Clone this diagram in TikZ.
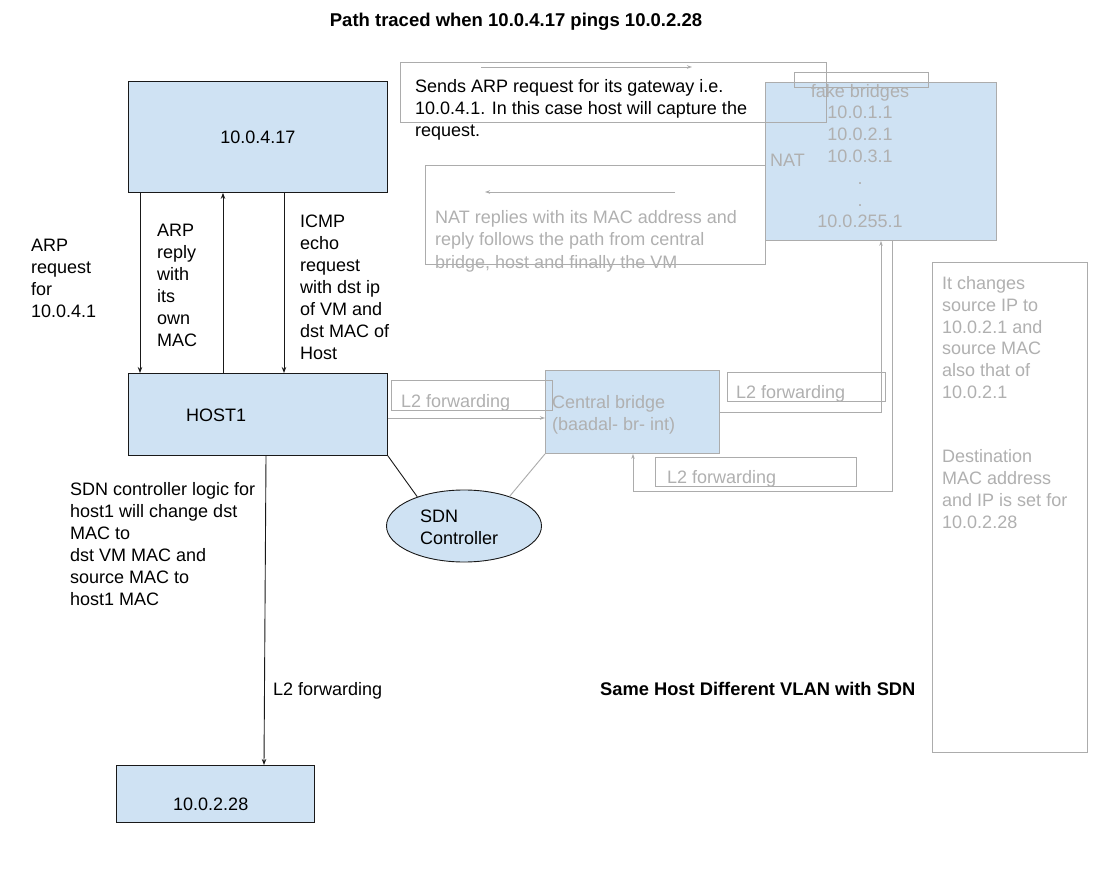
\documentclass[tikz,border=0pt]{standalone}
\usepackage{fontspec}
\setmainfont{Liberation Sans}
\usetikzlibrary{arrows.meta,shapes.geometric}
\definecolor{bfill}{RGB}{207,226,243}
\definecolor{lgray}{RGB}{172,172,172}
\definecolor{tgray}{RGB}{176,176,176}
\definecolor{dline}{RGB}{25,25,25}
\newcommand\tf{\fontsize{18}{22}\selectfont}
\begin{document}
\begin{tikzpicture}[x=1pt,y=-1pt,
  box/.style={draw=dline,fill=bfill,line width=0.9pt,inner sep=0pt,anchor=north west},
  gbox/.style={draw=lgray,fill=bfill,line width=0.9pt,inner sep=0pt,anchor=north west},
  obox/.style={draw=lgray,line width=0.9pt,inner sep=0pt,anchor=north west},
  txt/.style={anchor=north west,inner sep=0pt,align=left,font=\tf},
  one/.style={anchor=base west,inner sep=0pt,font=\tf},
  bline/.style={draw=dline,line width=0.9pt},
  barr/.style={draw=dline,line width=0.9pt,-{Stealth[length=6pt,width=4.5pt]}},
  gline/.style={draw=lgray,line width=0.9pt},
  garr/.style={draw=lgray,line width=0.9pt,-{Stealth[length=5pt,width=3.5pt]}}
]
\useasboundingbox[fill=white] (0,0) rectangle (1102,882);

% title
\node[anchor=base,inner sep=0pt,font=\bfseries\fontsize{18.5}{22}\selectfont] (title) at (516,27) {Path traced when 10.0.4.17 pings 10.0.2.28};
\node[anchor=base west,inner sep=0pt,font=\bfseries\fontsize{18.3}{22}\selectfont] (sub) at (600,695) {Same Host Different VLAN with SDN};

% main boxes
\node[box,minimum width=259pt,minimum height=111pt,font=\tf] (a) at (128,81) {10.0.4.17};
\node[box,minimum width=259pt,minimum height=82pt] (h) at (128,373) {};
\node[one] (htxt) at (186,421) {HOST1};
\node[box,minimum width=198pt,minimum height=57pt] (v) at (116,765) {};
\node[one] (vtxt) at (173,810) {10.0.2.28};
\node[ellipse,draw=dline,fill=bfill,line width=0.9pt,minimum width=155pt,minimum height=72pt,inner sep=0pt] (sdn) at (464,526) {};
\node[txt] (sdntxt) at (420,{522-15.4}) {\strut SDN\\Controller};

% central bridge
\node[gbox,minimum width=174pt,minimum height=83pt] (cb) at (545,370) {};
\node[txt,text=tgray] (cbtxt) at (552,{408-15.4}) {\strut Central bridge\\(baadal- br- int)};

% NAT
\node[gbox,minimum width=231pt,minimum height=158pt] (nat) at (765,82) {};
\node[obox,minimum width=134pt,minimum height=15pt] (fb) at (794,72) {};
\node[one,text=tgray] (nattxt) at (770,167) {NAT};
\node[anchor=north,inner sep=0pt,align=center,text=tgray,font=\fontsize{18}{21.8}\selectfont] (natlist) at (860,{97-15.26})
  {\strut fake bridges\\10.0.1.1\\10.0.2.1\\10.0.3.1\\.\\.\\10.0.255.1};

% top text box
\node[obox,minimum width=426pt,minimum height=60pt] (tb) at (400,62) {};
\coordinate (tb1) at (481,67);
\coordinate (tb2) at (692,67);
\draw[garr] (tb1) -- (tb2);
\node[txt] (tbtxt) at (415,{92-15.4}) {\strut Sends ARP request for its gateway i.e.\\10.0.4.1. In this case host will capture the\\request.};

% second text box
\node[obox,minimum width=340pt,minimum height=99pt] (nb) at (425,165) {};
\coordinate (nb1) at (675,192);
\coordinate (nb2) at (485,192);
\draw[garr] (nb1) -- (nb2);
\node[txt,text=tgray,font=\fontsize{18}{22.5}\selectfont] (nbtxt) at (435,{223-15.75}) {\strut NAT replies with its MAC address and\\reply follows the path from central\\bridge, host and finally the VM};

% right text box
\node[obox,minimum width=155pt,minimum height=490pt] (rb) at (932,262) {};
\node[txt,text=tgray,font=\fontsize{18}{21.7}\selectfont] (rbtxt) at (942,{289.5-15.19}) {\strut It changes\\source IP to\\10.0.2.1 and\\source MAC\\also that of\\10.0.2.1\\[43pt]Destination\\MAC address\\and IP is set for\\10.0.2.28};

% left labels
\node[txt] (l1) at (31,{251-15.4}) {\strut ARP\\request\\for\\10.0.4.1};
\node[txt] (l2) at (157,{236-15.4}) {\strut ARP\\reply\\with\\its\\own\\MAC};
\node[txt] (l3) at (300,{227-15.4}) {\strut ICMP\\echo\\request\\with dst ip\\of VM and\\dst MAC of\\Host};
\node[txt] (l4) at (70,{495-15.4}) {\strut SDN controller logic for\\host1 will change dst\\MAC to\\dst VM MAC and\\source MAC to\\host1 MAC};
\node[one] (l5) at (273,695) {L2 forwarding};

% vertical arrows
\coordinate (c1) at (140,0);
\coordinate (c2) at (223,0);
\coordinate (c3) at (284,0);
\coordinate (c4) at (266,0);
\coordinate (c5) at (264,0);
\draw[barr] (a.south -| c1) -- (h.north -| c1);
\draw[barr] (h.north -| c2) -- (a.south -| c2);
\draw[barr] (a.south -| c3) -- (h.north -| c3);
\draw[barr] (h.south -| c4) -- (v.north -| c5);

% controller links
\draw[bline] (h.south east) -- (sdn.148);
\draw[gline] (sdn.33) -- (cb.south west);

% L2 forwarding boxes
\node[obox,minimum width=161pt,minimum height=30pt] (f1) at (391,380) {};
\node[one,text=tgray] (f1t) at (401,407) {L2 forwarding};
\node[obox,minimum width=158pt,minimum height=29pt] (f2) at (727,372) {};
\node[one,text=tgray] (f2t) at (736,398) {L2 forwarding};
\node[obox,minimum width=201pt,minimum height=29pt] (f3) at (655,457) {};
\node[one,text=tgray] (f3t) at (667,483) {L2 forwarding};

% gray paths
\coordinate (y1) at (0,418);
\draw[garr] (h.east |- y1) -- (cb.west |- y1);
\coordinate (k1) at (881,412);
\draw[garr] (cb.east |- k1) -| (nat.south -| k1);
\coordinate (k2) at (892,491);
\coordinate (k3) at (633,491);
\draw[garr] (nat.south -| k2) -- (k2) -- (k3) -- (cb.south -| k3);
\end{tikzpicture}
\end{document}
